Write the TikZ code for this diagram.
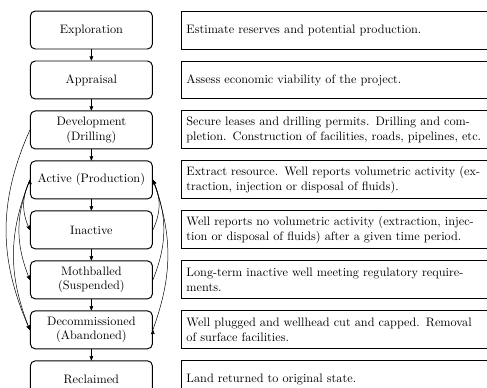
\documentclass[tikz,border=0pt]{standalone}
\usetikzlibrary{arrows, positioning}

\begin{document}
\begin{tikzpicture}
	\tikzset {>=stealth', node distance=9pt and 23pt,
		stage/.style={draw, thick, rounded corners, minimum width=3.5cm, minimum height=31pt, align=center},
		desc/.style={draw, thick, text width=8.5cm, inner sep=4pt, minimum height=31pt, align=left} }

	\useasboundingbox (-74.6pt,24.5pt) rectangle (323pt,-291.5pt);

	\node[stage] (explore) {Exploration};
	\node[stage, below=of explore] (appraise) {Appraisal};
	\node[stage, below=of appraise] (develop) {Development\\(Drilling)};
	\node[stage, below=of develop] (active) {Active (Production)};
	\node[stage, below=of active] (inactive) {Inactive};
	\node[stage, below=of inactive] (mothball) {Mothballed\\(Suspended)};
	\node[stage, below=of mothball] (decom) {Decommissioned\\(Abandoned)};
	\node[stage, below=of decom] (reclaim) {Reclaimed};

	\node[desc, right=of explore] (explore-d) {Estimate reserves and potential production.};
	\node[desc, right=of appraise] (appraise-d) {Assess economic viability of the project.};
	\node[desc, right=of develop] (develop-d) {Secure leases and drilling permits. Drilling and completion. Construction of facilities, roads, pipelines, etc.};
	\node[desc, right=of active] (active-d) {Extract resource. Well reports volumetric activity (extraction, injection or disposal of fluids).};
	\node[desc, right=of inactive] (inactive-d) {Well reports no volumetric activity (extraction, injection or disposal of fluids) after a given time period.};
	\node[desc, right=of mothball] (mothball-d) {Long-term inactive well meeting regulatory requirements.};
	\node[desc, right=of decom] (decom-d) {Well plugged and wellhead cut and capped. Removal of surface facilities.};
	\node[desc, right=of reclaim] (reclaim-d) {Land returned to original state.};

	\draw[->]
		(explore) edge (appraise)
		(appraise) edge (develop)
		(develop) edge (active)
		(active) edge (inactive)
		(inactive) edge (mothball)
		(mothball) edge (decom)
		(decom) edge (reclaim);

	% moves down the list, left side
	\draw[->]
		(develop.west) edge[bend right=24] (decom.west)
		(active.west) edge[bend right=25] (inactive.west)
		(active.west) edge[bend right=22] (mothball.west)
		(active.west) edge[bend right=22] (decom.west);

	% moves back to production, right side
	\draw[->]
		(inactive.east) edge[bend right=25] (active.east)
		(mothball.east) edge[bend right=22] (active.east)
		(decom.east) edge[bend right=20] (active.east);
\end{tikzpicture}
\end{document}
